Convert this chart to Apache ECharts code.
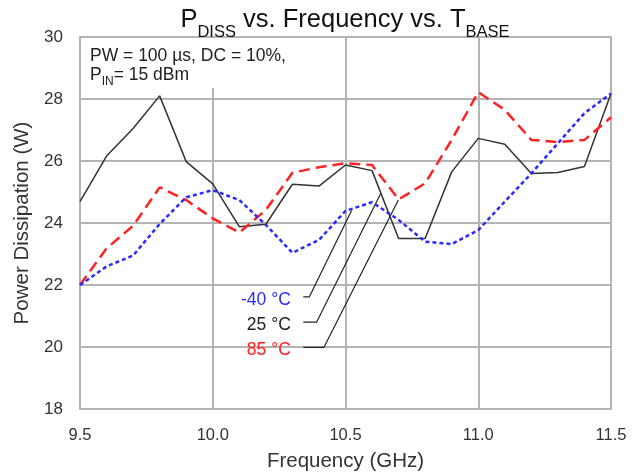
<!DOCTYPE html>
<html><head><meta charset="utf-8">
<script src="https://cdn.jsdelivr.net/npm/echarts@6/dist/echarts.min.js"></script>
<style>html,body{margin:0;padding:0;background:#fff}#c{width:641px;height:472px}</style>
</head><body><div id="c"></div>
<script>
const freq = [9.5,9.6,9.7,9.8,9.9,10.0,10.1,10.2,10.3,10.4,10.5,10.6,10.7,10.8,10.9,11.0,11.1,11.2,11.3,11.4,11.5];
const pMinus40 = [22.0,22.6,22.95,23.97,24.83,25.06,24.74,23.94,23.04,23.45,24.39,24.67,24.1,23.4,23.32,23.77,24.69,25.6,26.57,27.54,28.18];
const p25 = [24.69,26.16,27.05,28.1,25.98,25.26,23.88,23.96,25.25,25.19,25.87,25.69,23.5,23.5,25.65,26.73,26.54,25.6,25.63,25.82,28.18];
const p85 = [22.0,23.18,23.91,25.15,24.74,24.15,23.69,24.42,25.62,25.8,25.93,25.87,24.76,25.28,26.68,28.22,27.65,26.68,26.61,26.68,27.41];
const xTicks = [9.5,10.0,10.5,11.0,11.5];
const yTicks = [18,20,22,24,26,28,30];
const seriesNames = ['-40 °C','25 °C','85 °C'];
// leader lines: [label anchor, elbow, curve point]
const leaderMinus40 = [[10.341,21.62],[10.364,21.62],[10.523,24.40]];
const leader25 = [[10.341,20.80],[10.391,20.80],[10.633,24.96]];
const leader85 = [[10.341,19.99],[10.419,19.99],[10.699,24.74]];

const FONT = 'Liberation Sans, Arial, sans-serif';
const colBlue = '#2a2aff', colBlack = '#333333', colRed = '#ff2222';
function pairs(ys){ return freq.map((f,i)=>[f, ys[i]]); }
function leader(pts, name, color){
  return {
    type:'line', data: pts, symbol:'none', silent:true, z:3,
    lineStyle:{color:'#222', width:1.2},
    markPoint:{
      symbol:'rect', symbolSize:1, itemStyle:{color:'rgba(0,0,0,0)'},
      data:[{coord: pts[0], label:{show:true, formatter:name, position:'left', distance:12, offset:[0,3], color:color, fontSize:17.5, fontFamily:FONT}}]
    }
  };
}
const chart = echarts.init(document.getElementById('c'));
chart.setOption({
  animation:false,
  title:{
    text:'{m|P}{s|DISS}{m| vs. Frequency vs. T}{s|BASE}',
    left:340, textAlign:'center', top:0,
    textStyle:{
      fontWeight:'normal',
      rich:{
        m:{fontSize:25.5, color:'#111', fontWeight:'normal', fontFamily:FONT, verticalAlign:'bottom', lineHeight:28},
        s:{fontSize:16.5, color:'#111', fontWeight:'normal', fontFamily:FONT, verticalAlign:'bottom', lineHeight:28, padding:[0,0,-8,0]}
      }
    }
  },
  grid:{left:80, right:30, top:37, bottom:63, show:true, borderColor:'#8a8a8a', borderWidth:1.5, containLabel:false, outerBoundsMode:'none'},
  xAxis:{
    type:'value', min:9.5, max:11.5, interval:0.5,
    name:'Frequency (GHz)', nameLocation:'middle', nameGap:42,
    nameTextStyle:{fontSize:20.5, color:'#333', fontFamily:FONT},
    axisLine:{show:false}, axisTick:{show:false},
    axisLabel:{fontSize:16.5, color:'#333', margin:18, formatter:v=>v.toFixed(1), fontFamily:FONT},
    splitLine:{show:true, lineStyle:{color:'#b4b4b4', width:2}}
  },
  yAxis:{
    type:'value', min:18, max:30, interval:2,
    name:'Power Dissipation (W)', nameLocation:'middle', nameGap:43,
    nameTextStyle:{fontSize:20.5, color:'#333', fontFamily:FONT},
    axisLine:{show:false}, axisTick:{show:false},
    axisLabel:{fontSize:17, color:'#333', margin:17, fontFamily:FONT},
    splitLine:{show:true, lineStyle:{color:'#b4b4b4', width:2}}
  },
  graphic:[
    {type:'rect', shape:{x:81, y:38, width:220, height:50}, style:{fill:'#fff'}, z:1},
    {type:'text', left:90, top:47, z:2, style:{
      text:'{n|PW = 100 µs, DC = 10%,}\n{n|P}{s|IN}{n|= 15 dBm}',
      rich:{
        n:{fontSize:17.5, fill:'#222', fontFamily:FONT, lineHeight:19, verticalAlign:'bottom'},
        s:{fontSize:12, fill:'#222', fontFamily:FONT, lineHeight:19, verticalAlign:'bottom', padding:[0,0,-4,0]}
      }}}
  ],
  series:[
    {name:seriesNames[1], type:'line', data:pairs(p25), symbol:'none', z:4, lineStyle:{color:colBlack, width:1.5}},
    {name:seriesNames[2], type:'line', data:pairs(p85), symbol:'none', z:5, lineStyle:{color:colRed, width:2.5, type:[11,6]}},
    {name:seriesNames[0], type:'line', data:pairs(pMinus40), symbol:'none', z:6, lineStyle:{color:colBlue, width:2.5, type:[4,3]}},
    leader(leaderMinus40, seriesNames[0], colBlue),
    leader(leader25, seriesNames[1], '#222'),
    leader(leader85, seriesNames[2], colRed)
  ]
});
</script></body></html>
